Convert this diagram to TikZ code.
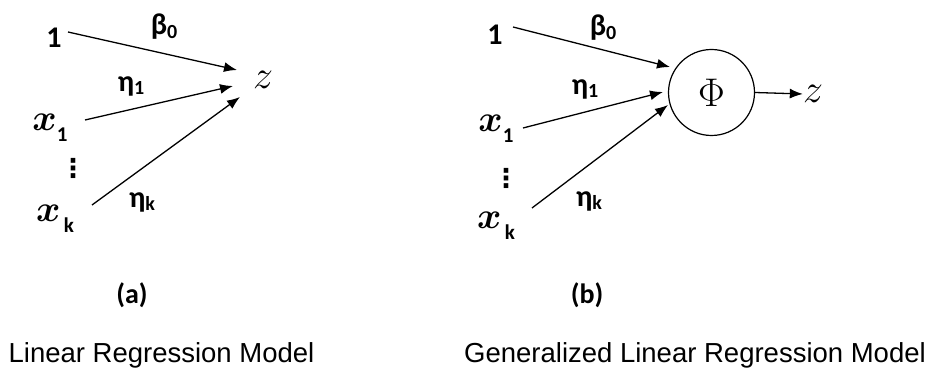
\RequirePackage{fix-cm}
\documentclass[tikz,border=0pt]{standalone}
\usepackage{fontspec}
\setmainfont{Liberation Sans}
\newfontfamily\carl{Carlito}
\newfontfamily\dvs{DejaVu Sans}
\usetikzlibrary{arrows.meta}
\tikzset{
  lbl/.style={inner sep=0pt, font=\carl\bfseries\fontsize{30}{34}\selectfont},
  mth/.style={inner sep=0pt, font=\fontsize{37}{40}\selectfont},
  zsty/.style={inner sep=0pt, font=\fontsize{40}{44}\selectfont},
  dotsty/.style={inner sep=0pt, font=\dvs\bfseries\fontsize{26}{30}\selectfont},
  arr/.style={line width=1.3pt, -{Latex[length=13pt,width=10pt]}},
  captxt/.style={inner sep=0pt, font=\fontsize{27.5}{32}\selectfont},
  subcap/.style={inner sep=0pt, font=\carl\bfseries\fontsize{28}{32}\selectfont},
}
\newcommand{\sbs}[1]{\raisebox{-0.12em}{\fontsize{20}{22}\selectfont #1}}
\newcommand{\xsym}[1]{{\boldmath$x$}\raisebox{-0.3em}{\carl\bfseries\fontsize{21}{24}\selectfont #1}}
\begin{document}
\begin{tikzpicture}[x=1pt,y=-1pt]
\useasboundingbox (0,0) rectangle (936,371);
% ---------- (a) ----------
\node[lbl] (a1) at (54,38) {1};
\node[lbl] (ab) at (164,27) {β\sbs{0}};
\node[lbl] (ae1) at (131,86) {η\sbs{1}};
\node[lbl] (aek) at (142,202) {η\sbs{k}};
\node[mth] (ax1) at (50,128) {\xsym{1}};
\node[dotsty] (avd) at (73,168) {⋮};
\node[mth] (axk) at (55,219) {\xsym{\,k}};
\node[zsty] (az) at (263,80) {$z$};
\coordinate (as1) at (68,32);
\coordinate (ae1e) at (237,70);
\coordinate (as2) at (85,120);
\coordinate (ae2e) at (233,86);
\coordinate (as3) at (92,205);
\coordinate (ae3e) at (240,97);
\draw[arr] (as1) -- (ae1e);
\draw[arr] (as2) -- (ae2e);
\draw[arr] (as3) -- (ae3e);
% ---------- (b) ----------
\node[lbl] (b1) at (495,35) {1};
\node[lbl] (bb) at (603,28) {β\sbs{0}};
\node[lbl] (be1) at (585,89) {η\sbs{1}};
\node[lbl] (bek) at (589,201) {η\sbs{k}};
\node[mth] (bx1) at (496,129) {\xsym{1}};
\node[dotsty] (bvd) at (506,178) {⋮};
\node[mth] (bxk) at (496,226) {\xsym{\,k}};
\node[circle, draw, line width=1.2pt, minimum size=86pt, inner sep=0pt,
      font=\fontsize{40}{44}\selectfont] (phi) at (711.5,92.5) {$\Phi$};
\node[zsty] (bz) at (813,94) {$z$};
\coordinate (bs1) at (513,27);
\coordinate (be1e) at (670,67);
\coordinate (bs2) at (523,128);
\coordinate (be2e) at (663,92);
\coordinate (bs3) at (532,208);
\coordinate (be3e) at (668,105);
\draw[arr] (bs1) -- (be1e);
\draw[arr] (bs2) -- (be2e);
\draw[arr] (bs3) -- (be3e);
\draw[arr] (phi.east) -- (bz.west);
% ---------- captions ----------
\node[subcap] (capa) at (132,295) {(a)};
\node[subcap] (capb) at (587,295) {(b)};
\node[captxt, anchor=base] (ta) at (161.5,362) {Linear Regression Model};
\node[captxt, anchor=base] (tb) at (695,362) {Generalized Linear Regression Model};
\end{tikzpicture}
\end{document}
